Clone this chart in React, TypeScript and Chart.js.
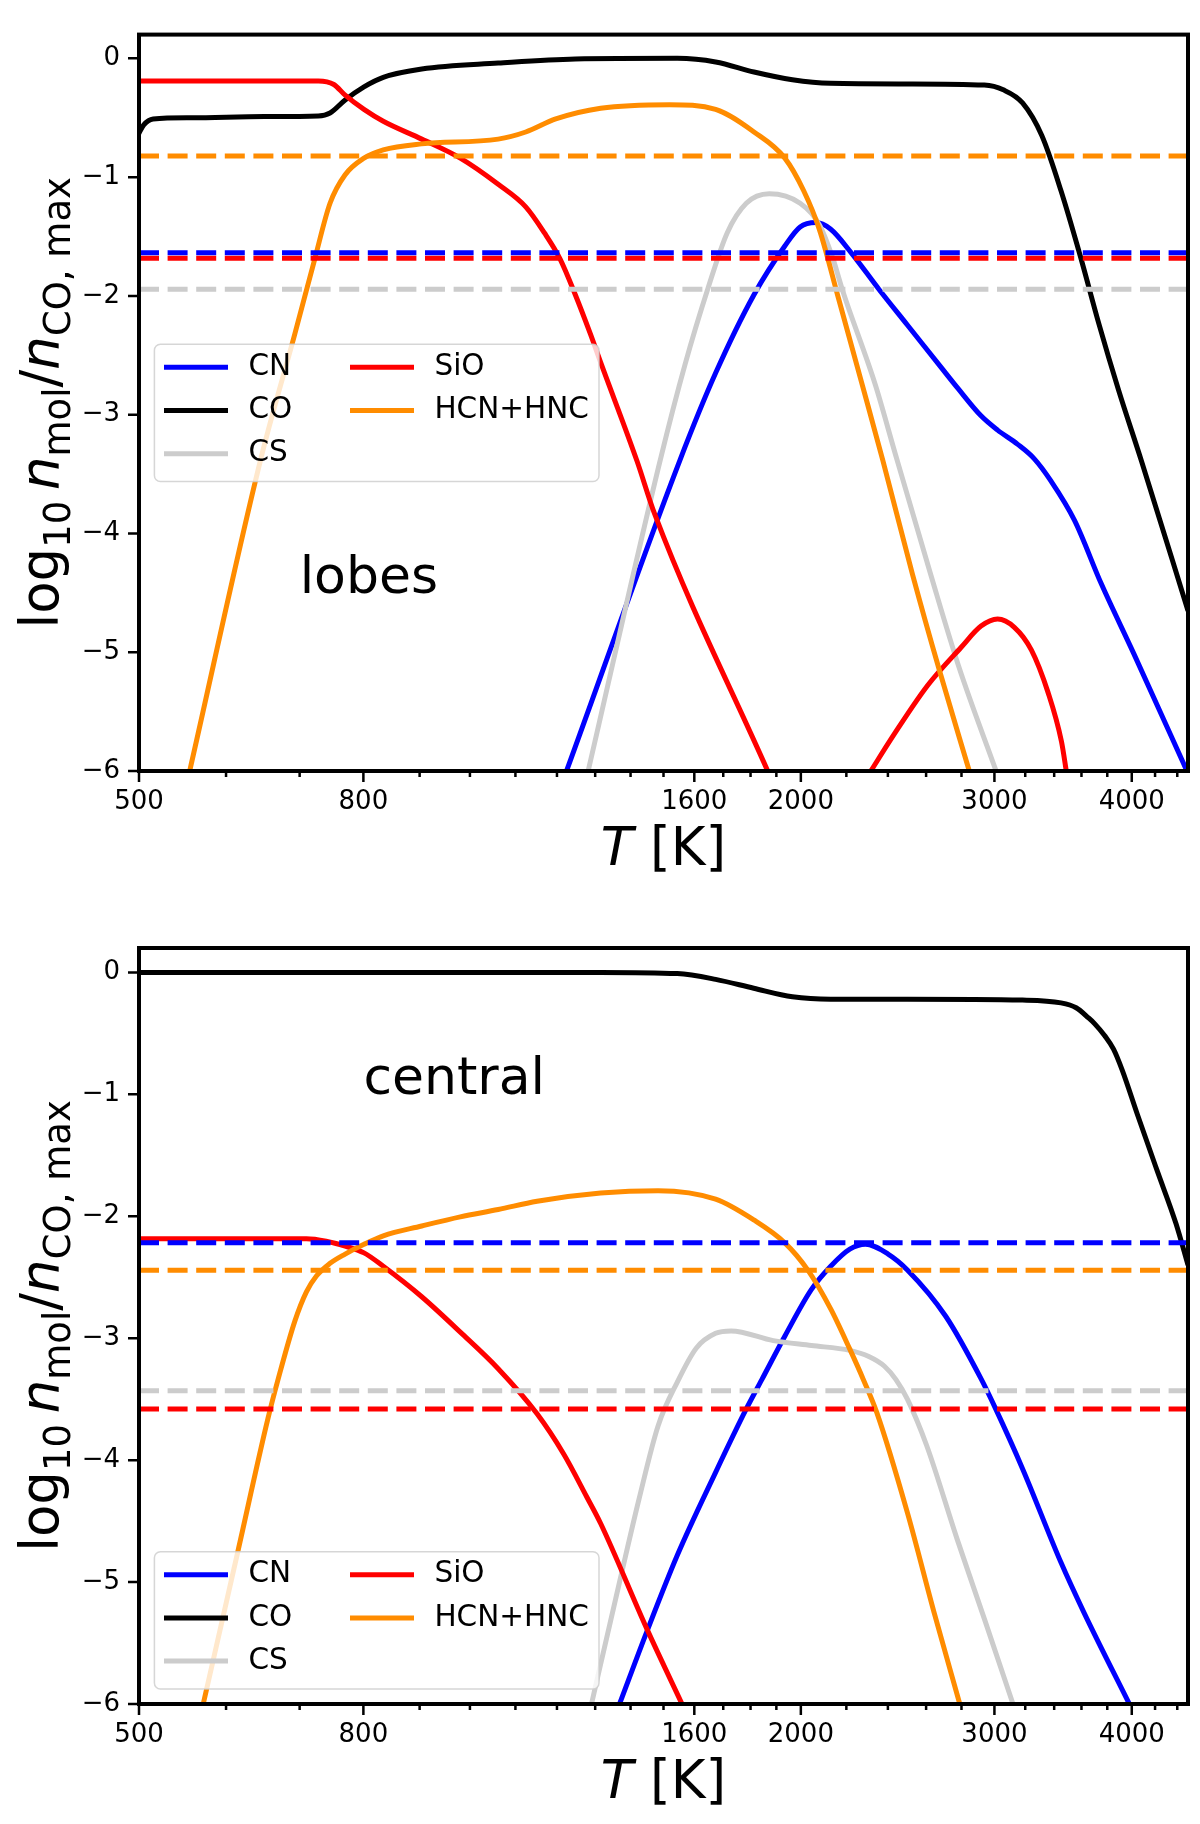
"use client"

import { useEffect, useRef } from "react"
import { Chart, registerables } from "chart.js"

Chart.register(...registerables)

const FONT = "'DejaVu Sans'"

// molecules, in plot / legend order
const species = ["CN", "CO", "CS", "SiO", "HCN+HNC"]
const speciesColors = ["#0000ff", "#000000", "#cccccc", "#ff0000", "#ff8c00"]
const legendColumns = [["CN", "CO", "CS"], ["SiO", "HCN+HNC"]]

const T_MIN = 500
const T_MAX = 4500
const Y_MIN = -6
const Y_MAX = 0.2

const xMajorTicks = [500, 800, 1600, 2000, 3000, 4000]
const xMinorTicks = [600, 700, 900, 1000, 1100, 1200, 1300, 1400, 1500, 1700, 1800, 1900, 2200, 2400, 2600, 2800, 3200, 3400, 3600, 3800, 4200, 4400]
const yTicks = [-6, -5, -4, -3, -2, -1, 0]

// ---- lobes: [T (K), log10 n/nCO,max]
const lobesCN = [[1222, -6.02], [1553, -3.38], [1673, -2.65], [1813, -1.99], [1934, -1.58], [1997, -1.42], [2064, -1.383], [2128, -1.437], [2221, -1.633], [2357, -1.948], [2500, -2.245], [2682, -2.6], [2777, -2.775], [2917, -3.01], [3020, -3.13], [3150, -3.25], [3260, -3.37], [3378, -3.56], [3548, -3.89], [3751, -4.42], [4016, -5.01], [4500, -6.02]]
const lobesCO = [[500, -0.63], [505, -0.56], [515, -0.51], [558, -0.5], [650, -0.49], [728, -0.485], [746, -0.46], [770, -0.35], [801, -0.24], [834, -0.16], [904, -0.09], [1061, -0.04], [1247, -0.005], [1544, 0.0], [1673, -0.03], [1813, -0.115], [1965, -0.18], [2128, -0.21], [2500, -0.215], [2937, -0.225], [3056, -0.265], [3182, -0.375], [3313, -0.65], [3449, -1.115], [3590, -1.66], [3735, -2.24], [3890, -2.79], [4082, -3.39], [4500, -4.65]]
const lobesCS = [[1281, -6.0], [1490, -3.38], [1570, -2.57], [1646, -1.94], [1714, -1.47], [1784, -1.22], [1872, -1.14], [1997, -1.22], [2079, -1.4], [2138, -1.68], [2182, -1.95], [2338, -2.75], [2441, -3.35], [2626, -4.35], [2784, -5.12], [3008, -5.99]]
const lobesSiO = [[500, -0.19], [728, -0.19], [752, -0.22], [770, -0.31], [801, -0.43], [834, -0.53], [904, -0.68], [980, -0.84], [1061, -1.06], [1124, -1.25], [1169, -1.47], [1208, -1.69], [1247, -1.99], [1287, -2.32], [1315, -2.56], [1419, -3.39], [1473, -3.84], [1870, -6.02]]
const lobesSiOHump = [[2305, -6.03], [2432, -5.69], [2608, -5.28], [2797, -4.96], [2917, -4.78], [3020, -4.72], [3128, -4.79], [3241, -4.98], [3357, -5.34], [3452, -5.75], [3490, -6.02]]
const lobesHCN = [[556, -6.0], [645, -3.38], [693, -2.32], [722, -1.7], [746, -1.22], [770, -0.98], [801, -0.84], [834, -0.77], [904, -0.72], [1061, -0.68], [1124, -0.62], [1197, -0.51], [1315, -0.42], [1519, -0.39], [1673, -0.43], [1813, -0.62], [1934, -0.84], [2012, -1.115], [2079, -1.44], [2164, -2.02], [2270, -2.72], [2374, -3.38], [2528, -4.35], [2673, -5.15], [2844, -5.99]]
// dashed reference levels (CN, CO, CS, SiO, HCN+HNC)
const lobesLevels = [-1.637, null, -1.944, -1.683, -0.823]

// ---- central
const centralCN = [[1368, -6.0], [1448, -5.41], [1544, -4.78], [1673, -4.1], [1784, -3.58], [1843, -3.34], [1935, -2.98], [2045, -2.6], [2129, -2.41], [2216, -2.27], [2290, -2.23], [2401, -2.31], [2500, -2.44], [2709, -2.82], [2920, -3.34], [3008, -3.58], [3182, -4.07], [3449, -4.84], [3619, -5.25], [3990, -6.02]]
const centralCO = [[500, 0.0], [1315, 0.0], [1544, -0.01], [1673, -0.057], [1812, -0.13], [1965, -0.2], [2129, -0.22], [2500, -0.22], [3182, -0.227], [3449, -0.25], [3560, -0.29], [3650, -0.37], [3700, -0.42], [3780, -0.52], [3850, -0.63], [3920, -0.8], [4049, -1.17], [4216, -1.62], [4388, -2.06], [4500, -2.4]]
const centralCS = [[1290, -6.0], [1368, -5.0], [1425, -4.32], [1483, -3.72], [1544, -3.36], [1607, -3.08], [1673, -2.96], [1728, -2.94], [1888, -3.02], [2045, -3.06], [2216, -3.1], [2306, -3.15], [2383, -3.23], [2441, -3.34], [2500, -3.5], [2603, -3.88], [2775, -4.65], [2937, -5.3], [3119, -6.0]]
const centralSiO = [[500, -2.185], [710, -2.185], [740, -2.205], [770, -2.245], [801, -2.3], [834, -2.41], [904, -2.66], [980, -2.95], [1061, -3.25], [1151, -3.62], [1217, -3.95], [1277, -4.3], [1315, -4.52], [1448, -5.38], [1563, -6.02]]
const centralHCN = [[572, -6.0], [615, -4.75], [655, -3.66], [669, -3.34], [693, -2.86], [710, -2.62], [725, -2.49], [745, -2.39], [770, -2.31], [801, -2.23], [834, -2.16], [904, -2.08], [980, -2.005], [1061, -1.945], [1151, -1.877], [1315, -1.81], [1483, -1.79], [1673, -1.86], [1812, -2.03], [1935, -2.22], [2029, -2.44], [2129, -2.76], [2216, -3.09], [2280, -3.34], [2345, -3.61], [2500, -4.43], [2644, -5.25], [2790, -6.0]]
const centralLevels = [-2.218, null, -3.432, -3.58, -2.442]

const panels = [
  {
    name: "lobes",
    curves: [lobesCN, lobesCO, lobesCS, lobesSiO, lobesHCN],
    extra: [[lobesSiOHump, 3]],
    levels: lobesLevels,
    textAt: [700, -4.5],
    padTop: 13,
    xAxisHeight: 141,
    legendTop: 309.7,
  },
  {
    name: "central",
    curves: [centralCN, centralCO, centralCS, centralSiO, centralHCN],
    extra: [],
    levels: centralLevels,
    textAt: [800, -1.0],
    padTop: 36,
    xAxisHeight: 120,
    legendTop: 603.7,
  },
]

const LINE_W = 5

const minus = (v: number) => (v < 0 ? "\u2212" + Math.abs(v) : String(v))

type Seg = { text: string; font: string; dy?: number; gap?: number }

function drawSegs(ctx: CanvasRenderingContext2D, segs: Seg[], cx: number, baseY: number) {
  let total = 0
  const widths = segs.map((s) => {
    ctx.font = s.font
    const w = s.gap ?? ctx.measureText(s.text).width
    total += w
    return w
  })
  let x = cx - total / 2
  segs.forEach((s, i) => {
    ctx.font = s.font
    if (s.text) ctx.fillText(s.text, x, baseY + (s.dy ?? 0))
    x += widths[i]
  })
}

function makeDecor(spec: any) {
  return {
    id: "decor",
    afterDatasetsDraw(chart: any) {
      const { ctx, chartArea: a, scales } = chart
      const xs = scales.x
      const ys = scales.y
      ctx.save()
      ctx.strokeStyle = "#000"
      ctx.fillStyle = "#000"

      // tick marks
      ctx.lineWidth = 2.5
      ctx.beginPath()
      for (const v of xMajorTicks.concat(xMinorTicks)) {
        const px = xs.getPixelForValue(v)
        const len = xMajorTicks.includes(v) ? 11 : 6
        ctx.moveTo(px, a.bottom)
        ctx.lineTo(px, a.bottom + len)
      }
      for (const v of yTicks) {
        const py = ys.getPixelForValue(v)
        ctx.moveTo(a.left, py)
        ctx.lineTo(a.left - 11, py)
      }
      ctx.stroke()

      // frame
      ctx.lineWidth = 4
      ctx.strokeRect(a.left, a.top, a.right - a.left, a.bottom - a.top)

      // panel name
      ctx.font = `52px ${FONT}`
      ctx.textAlign = "left"
      ctx.textBaseline = "alphabetic"
      ctx.fillText(spec.name, xs.getPixelForValue(spec.textAt[0]), ys.getPixelForValue(spec.textAt[1]))

      // x title: T [K]
      const F = 53
      drawSegs(
        ctx,
        [
          { text: "T", font: `italic ${F}px ${FONT}` },
          { text: " [K]", font: `${F}px ${FONT}` },
        ],
        (a.left + a.right) / 2,
        a.bottom + 94
      )

      // y title: log10 n_mol / n_CO,max
      const S = Math.round(F * 0.7)
      const sub = F * 0.22
      ctx.save()
      ctx.translate(58, (a.top + a.bottom) / 2)
      ctx.rotate(-Math.PI / 2)
      drawSegs(
        ctx,
        [
          { text: "log", font: `${F}px ${FONT}` },
          { text: "10", font: `${S}px ${FONT}`, dy: sub },
          { text: "", font: `${F}px ${FONT}`, gap: F * 0.2 },
          { text: "n", font: `italic ${F}px ${FONT}` },
          { text: "mol", font: `${S}px ${FONT}`, dy: sub },
          { text: "/", font: `${F}px ${FONT}` },
          { text: "n", font: `italic ${F}px ${FONT}` },
          { text: "CO, max", font: `${S}px ${FONT}`, dy: sub },
        ],
        0,
        0
      )
      ctx.restore()
      ctx.restore()
    },
    afterDraw(chart: any) {
      const { ctx, chartArea: a } = chart
      const bx = a.left + 15.4
      const by = a.top + spec.legendTop
      ctx.save()
      ctx.beginPath()
      ctx.roundRect(bx, by, 444.6, 137.3, 6)
      ctx.fillStyle = "rgba(255,255,255,0.8)"
      ctx.fill()
      ctx.strokeStyle = "rgba(204,204,204,0.8)"
      ctx.lineWidth = 1.5
      ctx.stroke()

      ctx.font = `29.5px ${FONT}`
      ctx.textAlign = "left"
      ctx.textBaseline = "middle"
      legendColumns.forEach((col, c) => {
        col.forEach((name, r) => {
          const i = species.indexOf(name)
          const rowY = by + 23 + r * 43.2
          const hx = bx + 9.6 + c * 186
          ctx.strokeStyle = speciesColors[i]
          ctx.lineWidth = LINE_W
          ctx.beginPath()
          ctx.moveTo(hx, rowY)
          ctx.lineTo(hx + 64, rowY)
          ctx.stroke()
          ctx.fillStyle = "#000"
          ctx.fillText(name, hx + 84.4, rowY)
        })
      })
      ctx.restore()
    },
  }
}

const toXY = (pts: number[][]) => pts.map(([x, y]) => ({ x, y }))

function Panel({ spec }: { spec: any }) {
  const chartRef = useRef<HTMLCanvasElement>(null)

  useEffect(() => {
    if (!chartRef.current) return
    const datasets: any[] = []

    spec.curves.forEach((pts: number[][], i: number) => {
      datasets.push({
        label: species[i],
        data: toXY(pts),
        borderColor: speciesColors[i],
        borderWidth: LINE_W,
        order: 5 - i,
      })
    })
    spec.extra.forEach(([pts, i]: [number[][], number]) => {
      datasets.push({
        label: species[i],
        data: toXY(pts),
        borderColor: speciesColors[i],
        borderWidth: LINE_W,
        order: 5 - i,
      })
    })
    spec.levels.forEach((lvl: number | null, i: number) => {
      if (lvl === null) return
      datasets.push({
        label: species[i] + " level",
        data: [
          { x: T_MIN, y: lvl },
          { x: T_MAX, y: lvl },
        ],
        borderColor: speciesColors[i],
        borderWidth: LINE_W,
        borderDash: [20, 8.6],
        order: 0,
      })
    })

    const chart = new Chart(chartRef.current, {
      type: "line",
      data: { datasets },
      options: {
        animation: false,
        responsive: false,
        events: [],
        layout: { autoPadding: false, padding: { left: 0, right: 12, top: spec.padTop, bottom: 0 } },
        elements: {
          point: { radius: 0 },
          line: { cubicInterpolationMode: "monotone", fill: false },
        },
        datasets: { line: { clip: 0 } },
        scales: {
          x: {
            type: "logarithmic",
            position: "bottom",
            min: T_MIN,
            max: T_MAX,
            afterBuildTicks: (s: any) => {
              s.ticks = xMajorTicks.concat(xMinorTicks).sort((p, q) => p - q).map((v) => ({ value: v }))
            },
            afterFit: (s: any) => {
              s.height = spec.xAxisHeight
            },
            grid: { display: false, drawTicks: false },
            border: { display: false },
            ticks: {
              autoSkip: false,
              maxRotation: 0,
              minRotation: 0,
              padding: 16,
              color: "#000",
              font: { family: FONT, size: 26 },
              callback: (v: any) => (xMajorTicks.includes(Number(v)) ? String(v) : ""),
            },
          },
          y: {
            type: "linear",
            min: Y_MIN,
            max: Y_MAX,
            afterBuildTicks: (s: any) => {
              s.ticks = yTicks.map((v) => ({ value: v }))
            },
            afterFit: (s: any) => {
              s.width = 139
            },
            grid: { display: false, drawTicks: false },
            border: { display: false },
            ticks: {
              padding: 19,
              color: "#000",
              font: { family: FONT, size: 26 },
              callback: (v: any) => minus(Number(v)),
            },
          },
        },
        plugins: {
          legend: { display: false },
          tooltip: { enabled: false },
        },
      },
      plugins: [makeDecor(spec)],
    } as any)

    return () => {
      chart.destroy()
    }
  }, [spec])

  return <canvas ref={chartRef} width={1200} height={912} style={{ display: "block" }} />
}

export default function App() {
  return (
    <div style={{ position: "absolute", left: 0, top: 0, width: 1200, height: 1824, background: "#fff" }}>
      {panels.map((p) => (
        <Panel key={p.name} spec={p} />
      ))}
    </div>
  )
}
